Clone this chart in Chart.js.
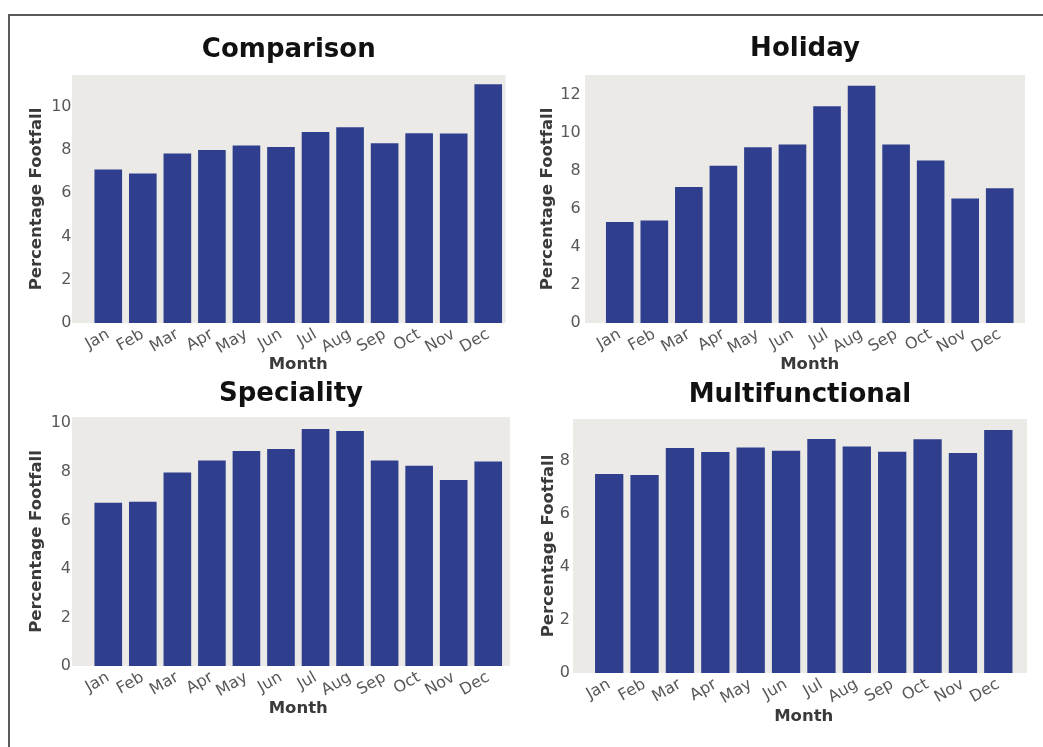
<!DOCTYPE html>
<html>
<head>
<meta charset="utf-8">
<script src="https://cdn.jsdelivr.net/npm/chart.js@4.4.1/dist/chart.umd.min.js"></script>
<style>
    body { margin:0; background:#fff; width:1043px; height:747px; overflow:hidden; position:relative; font-family:"DejaVu Sans", sans-serif; }
    .frame { position:absolute; left:8px; top:14px; right:-4px; bottom:-4px; border-top:2px solid #5a5a5a; border-left:2px solid #5a5a5a; }
    .panel { position:absolute; }
</style>
</head>
<body>
<div class="frame"></div>
<div class="panel" id="p0"><canvas id="c0"></canvas></div>
<div class="panel" id="p1"><canvas id="c1"></canvas></div>
<div class="panel" id="p2"><canvas id="c2"></canvas></div>
<div class="panel" id="p3"><canvas id="c3"></canvas></div>
<script>
// --- DATA ---
const months = ['Jan', 'Feb', 'Mar', 'Apr', 'May', 'Jun', 'Jul', 'Aug', 'Sep', 'Oct', 'Nov', 'Dec'];

const comparison      = [7.09, 6.90, 7.82, 7.99, 8.20, 8.13, 8.82, 9.04, 8.30, 8.76, 8.75, 11.02];
const holiday         = [5.31, 5.39, 7.16, 8.27, 9.25, 9.39, 11.40, 12.49, 9.39, 8.55, 6.55, 7.09];
const speciality      = [6.73, 6.77, 7.97, 8.47, 8.86, 8.94, 9.77, 9.68, 8.47, 8.25, 7.66, 8.43];
const multifunctional = [7.50, 7.46, 8.48, 8.33, 8.50, 8.37, 8.82, 8.53, 8.34, 8.81, 8.29, 9.16];

const comparisonTicks      = [0, 2, 4, 6, 8, 10];
const holidayTicks         = [0, 2, 4, 6, 8, 10, 12];
const specialityTicks      = [0, 2, 4, 6, 8, 10];
const multifunctionalTicks = [0, 2, 4, 6, 8];

const yLabel = 'Percentage Footfall';
const xLabel = 'Month';

// --- STYLE ---
const BAR_COLOR = '#2f3f8e';
const PLOT_BG = '#ebeae7';
const TICK_COLOR = '#585858';
const LABEL_COLOR = '#3a3a3a';

// panel layout (page pixels)
const panels = [
    { title: 'Comparison', values: comparison, ticks: comparisonTicks, yMax: 11.45,
      left: 10, top: 20, width: 505, height: 359, pad: { left: 0, right: 9.5, top: 55, bottom: 0 },
      yWidth: 81, tickPad: 19.5, yTitlePad: 17, xTitlePad: 4, bgLeft: 19, bgRight: 0, titleBase: 37 },
    { title: 'Holiday', values: holiday, ticks: holidayTicks, yMax: 13.05,
      left: 525, top: 20, width: 518, height: 359, pad: { left: 0, right: 26, top: 55, bottom: 0 },
      yWidth: 77.5, tickPad: 21.8, yTitlePad: 12.4, xTitlePad: 4, bgLeft: 17.5, bgRight: 8, titleBase: 36 },
    { title: 'Speciality', values: speciality, ticks: specialityTicks, yMax: 10.26,
      left: 10, top: 370, width: 505, height: 352, pad: { left: 0, right: 9.5, top: 47, bottom: 0 },
      yWidth: 81, tickPad: 20, yTitlePad: 17, xTitlePad: 3.6, bgLeft: 19, bgRight: 4.5, titleBase: 31 },
    { title: 'Multifunctional', values: multifunctional, ticks: multifunctionalTicks, yMax: 9.57,
      left: 525, top: 370, width: 518, height: 359, pad: { left: 0, right: 27, top: 49, bottom: 0 },
      yWidth: 66.5, tickPad: 21.5, yTitlePad: 13.4, xTitlePad: 2.6, bgLeft: 18.5, bgRight: 11, titleBase: 32 }
];

// plot background + panel title (centred over the grey area, like matplotlib)
const panelDecor = {
    id: 'panelDecor',
    beforeDraw(chart, args, opts) {
        const { ctx, chartArea: a } = chart;
        ctx.save();
        ctx.fillStyle = PLOT_BG;
        ctx.fillRect(a.left - opts.bgLeft, a.top, a.right - a.left + opts.bgLeft + opts.bgRight, a.bottom - a.top);
        ctx.restore();
    },
    afterDraw(chart, args, opts) {
        const { ctx, chartArea: a } = chart;
        const cx = (a.left - opts.bgLeft + a.right + opts.bgRight) / 2;
        ctx.save();
        ctx.font = 'bold 26px "DejaVu Sans"';
        ctx.fillStyle = '#111';
        ctx.textAlign = 'center';
        ctx.textBaseline = 'alphabetic';
        ctx.fillText(opts.text, cx, opts.baseline);
        ctx.restore();
    }
};

panels.forEach((p, i) => {
    const box = document.getElementById('p' + i);
    box.style.left = p.left + 'px';
    box.style.top = p.top + 'px';
    box.style.width = p.width + 'px';
    box.style.height = p.height + 'px';

    new Chart(document.getElementById('c' + i), {
        type: 'bar',
        data: {
            labels: months,
            datasets: [{
                data: p.values,
                backgroundColor: BAR_COLOR,
                borderWidth: 0,
                barPercentage: 0.8,
                categoryPercentage: 1.0
            }]
        },
        plugins: [panelDecor],
        options: {
            responsive: true,
            maintainAspectRatio: false,
            animation: false,
            layout: { padding: p.pad },
            plugins: {
                legend: { display: false },
                tooltip: { enabled: false },
                panelDecor: { text: p.title, baseline: p.titleBase, bgLeft: p.bgLeft, bgRight: p.bgRight }
            },
            scales: {
                x: {
                    grid: { display: false, drawTicks: false, tickLength: 0 },
                    border: { display: false },
                    ticks: {
                        color: TICK_COLOR,
                        font: { family: '"DejaVu Sans"', size: 16 },
                        minRotation: 30,
                        maxRotation: 30,
                        padding: 2,
                        autoSkip: false
                    },
                    title: {
                        display: true,
                        text: xLabel,
                        color: LABEL_COLOR,
                        font: { family: '"DejaVu Sans"', size: 16.5, weight: 'bold', lineHeight: 1.2 },
                        padding: { top: 0, bottom: p.xTitlePad }
                    },
                    afterFit: (scale) => { scale.height = 56; }
                },
                y: {
                    min: 0,
                    max: p.yMax,
                    grid: { display: false, drawTicks: false, tickLength: 0 },
                    border: { display: false },
                    ticks: {
                        color: TICK_COLOR,
                        font: { family: '"DejaVu Sans"', size: 16 },
                        padding: p.tickPad
                    },
                    title: {
                        display: true,
                        text: yLabel,
                        color: LABEL_COLOR,
                        font: { family: '"DejaVu Sans"', size: 16.5, weight: 'bold', lineHeight: 1.2 },
                        padding: { top: p.yTitlePad, bottom: 0 }
                    },
                    afterBuildTicks: (scale) => { scale.ticks = p.ticks.map(v => ({ value: v })); },
                    afterFit: (scale) => { scale.width = p.yWidth; }
                }
            }
        }
    });
});
</script>
</body>
</html>
